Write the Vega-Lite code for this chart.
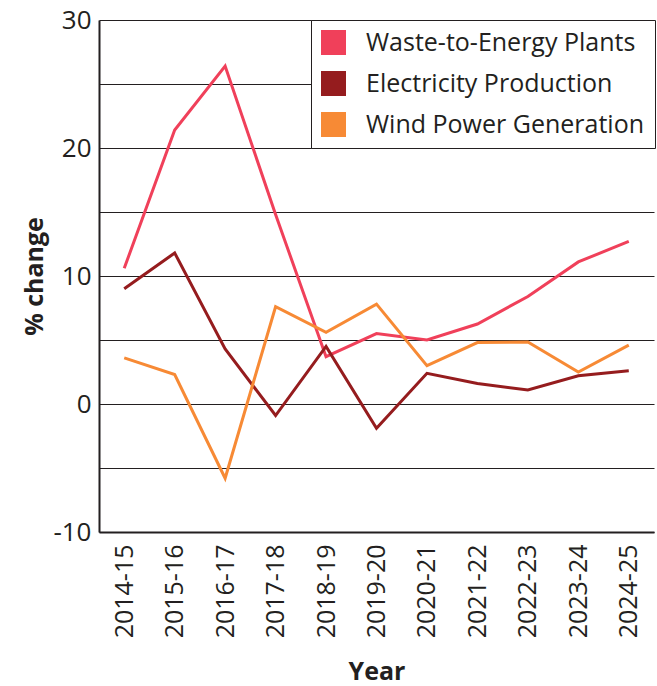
{
  "$schema": "https://vega.github.io/schema/vega-lite/v6.json",
  "autosize": {"type": "none"},
  "padding": {"left": 99, "top": 20, "right": 3, "bottom": 154},
  "width": 555,
  "height": 512,
  "background": "white",
  "config": {
    "font": "Open Sans",
    "view": {"stroke": null},
    "axis": {"labelColor": "#231f20", "titleColor": "#231f20"}
  },
  "data": {
    "values": [
      {"year": "2014-15", "series": "Waste-to-Energy Plants", "value": 10.6},
      {"year": "2015-16", "series": "Waste-to-Energy Plants", "value": 21.4},
      {"year": "2016-17", "series": "Waste-to-Energy Plants", "value": 26.4},
      {"year": "2017-18", "series": "Waste-to-Energy Plants", "value": 14.8},
      {"year": "2018-19", "series": "Waste-to-Energy Plants", "value": 3.7},
      {"year": "2019-20", "series": "Waste-to-Energy Plants", "value": 5.5},
      {"year": "2020-21", "series": "Waste-to-Energy Plants", "value": 5.0},
      {"year": "2021-22", "series": "Waste-to-Energy Plants", "value": 6.25},
      {"year": "2022-23", "series": "Waste-to-Energy Plants", "value": 8.4},
      {"year": "2023-24", "series": "Waste-to-Energy Plants", "value": 11.1},
      {"year": "2024-25", "series": "Waste-to-Energy Plants", "value": 12.7},
      {"year": "2014-15", "series": "Electricity Production", "value": 9.0},
      {"year": "2015-16", "series": "Electricity Production", "value": 11.8},
      {"year": "2016-17", "series": "Electricity Production", "value": 4.3},
      {"year": "2017-18", "series": "Electricity Production", "value": -0.9},
      {"year": "2018-19", "series": "Electricity Production", "value": 4.5},
      {"year": "2019-20", "series": "Electricity Production", "value": -1.9},
      {"year": "2020-21", "series": "Electricity Production", "value": 2.4},
      {"year": "2021-22", "series": "Electricity Production", "value": 1.6},
      {"year": "2022-23", "series": "Electricity Production", "value": 1.1},
      {"year": "2023-24", "series": "Electricity Production", "value": 2.2},
      {"year": "2024-25", "series": "Electricity Production", "value": 2.6},
      {"year": "2014-15", "series": "Wind Power Generation", "value": 3.6},
      {"year": "2015-16", "series": "Wind Power Generation", "value": 2.3},
      {"year": "2016-17", "series": "Wind Power Generation", "value": -5.8},
      {"year": "2017-18", "series": "Wind Power Generation", "value": 7.6},
      {"year": "2018-19", "series": "Wind Power Generation", "value": 5.6},
      {"year": "2019-20", "series": "Wind Power Generation", "value": 7.8},
      {"year": "2020-21", "series": "Wind Power Generation", "value": 3.0},
      {"year": "2021-22", "series": "Wind Power Generation", "value": 4.8},
      {"year": "2022-23", "series": "Wind Power Generation", "value": 4.85},
      {"year": "2023-24", "series": "Wind Power Generation", "value": 2.5},
      {"year": "2024-25", "series": "Wind Power Generation", "value": 4.6}
    ]
  },
  "mark": {"type": "line", "strokeWidth": 3},
  "encoding": {
    "x": {
      "field": "year",
      "type": "ordinal",
      "scale": {"type": "point", "padding": 0.5},
      "axis": {
        "title": "Year",
        "titleFontSize": 25,
        "titleFontWeight": "bold",
        "titlePadding": 22,
        "labelAngle": -90,
        "labelFontSize": 25,
        "labelPadding": 12,
        "ticks": false,
        "grid": false,
        "domainColor": "#231f20",
        "domainWidth": 2
      }
    },
    "y": {
      "field": "value",
      "type": "quantitative",
      "scale": {"domain": [-10, 30], "nice": false, "zero": false},
      "axis": {
        "title": "% change",
        "titleFontSize": 25,
        "titleFontWeight": "bold",
        "titlePadding": 5,
        "values": [-10, -5, 0, 5, 10, 15, 20, 25, 30],
        "labelExpr": "datum.value % 10 === 0 ? toString(datum.value) : ''",
        "labelFontSize": 26,
        "labelPadding": 8,
        "ticks": false,
        "grid": true,
        "gridColor": "#231f20",
        "gridWidth": 1.2,
        "gridOpacity": 1,
        "domainColor": "#231f20",
        "domainWidth": 2
      }
    },
    "color": {
      "field": "series",
      "type": "nominal",
      "sort": ["Waste-to-Energy Plants", "Electricity Production", "Wind Power Generation"],
      "scale": {
        "domain": ["Waste-to-Energy Plants", "Electricity Production", "Wind Power Generation"],
        "range": ["#f0405a", "#951c1e", "#f78a35"]
      },
      "legend": {
        "title": null,
        "orient": "none",
        "legendX": 212,
        "legendY": 0,
        "direction": "vertical",
        "fillColor": "white",
        "strokeColor": "#231f20",
        "padding": 10,
        "symbolType": "square",
        "symbolSize": 625,
        "symbolStrokeWidth": 0,
        "symbolOpacity": 1,
        "labelFontSize": 25,
        "labelColor": "#231f20",
        "labelOffset": 20,
        "rowPadding": 15,
        "labelLimit": 400,
        "encode": {
          "symbols": {
            "update": {
              "fill": {"scale": "color", "field": "value"},
              "fillOpacity": {"value": 1},
              "strokeWidth": {"value": 0}
            }
          }
        }
      }
    }
  }
}
